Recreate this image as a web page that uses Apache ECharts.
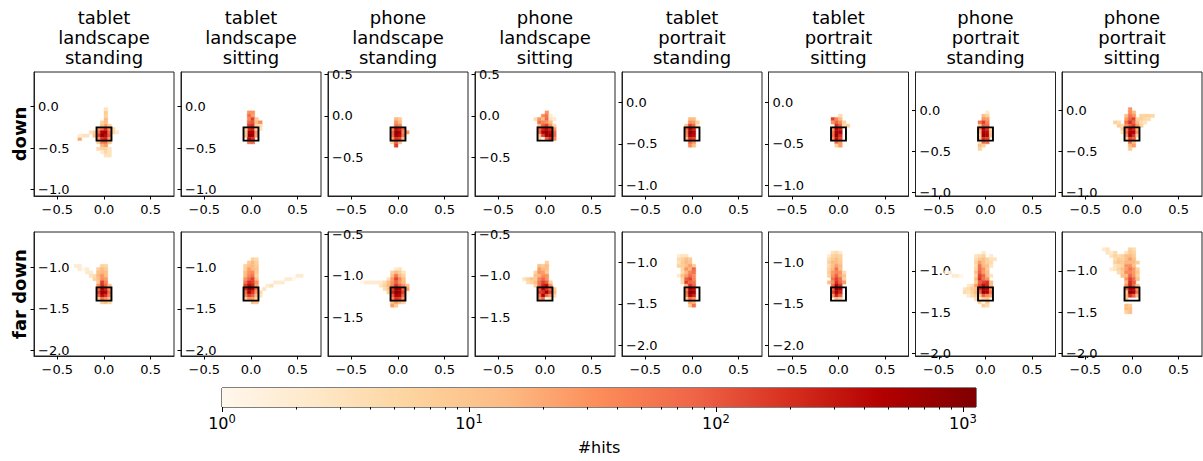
<!DOCTYPE html>
<html><head><meta charset="utf-8">
<script src="https://cdn.jsdelivr.net/npm/echarts@6/dist/echarts.min.js"></script>
<style>html,body{margin:0;padding:0;background:#fff}#c{width:1203px;height:461px}</style>
</head><body><div id="c"></div>
<script>
// ---------- data ----------
const COLUMN_TITLES = ['tablet\nlandscape\nstanding','tablet\nlandscape\nsitting','phone\nlandscape\nstanding','phone\nlandscape\nsitting',
  'tablet\nportrait\nstanding','tablet\nportrait\nsitting','phone\nportrait\nstanding','phone\nportrait\nsitting'];
const ROW_LABELS = ['down','far down'];
const TARGET_Y_DOWN = [-0.33,-0.33,-0.22,-0.22,-0.38,-0.38,-0.29,-0.29];
const TARGET_Y_FAR  = [-1.32,-1.32,-1.22,-1.22,-1.38,-1.38,-1.28,-1.28];
const X_TICKS = [-0.5, 0, 0.5];
const Y_TICKS_DOWN = [[0,-0.5,-1],[0,-0.5,-1],[0.5,0,-0.5],[0.5,0,-0.5],[0,-0.5,-1],[0,-0.5,-1],[0,-0.5,-1],[0,-0.5,-1]];
const Y_TICKS_FAR  = [[-1,-1.5,-2],[-1,-1.5,-2],[-0.5,-1,-1.5],[-0.5,-1,-1.5],[-1,-1.5,-2],[-1,-1.5,-2],[-1,-1.5,-2],[-1,-1.5,-2]];
const CBAR_MAJOR = [1, 10, 100, 1000];
const CBAR_MINOR = [2,3,4,5,6,7,8,9,20,30,40,50,60,70,80,90,200,300,400,500,600,700,800,900];
const HITS_MAX = 1130;
const BIN = 0.04;          // histogram bin size
const TARGET_SIZE = 0.16;  // side of target square

// cells: [column index, row index, hits] relative to target centre (bins of BIN)
const down_tablet_landscape_standing = [
 [-2,1,30],[-1,1,70],[0,1,200],[1,1,30],[-2,0,80],[-1,0,450],[0,0,500],[1,0,60],
 [-2,-1,150],[-1,-1,900],[0,-1,400],[1,-1,90],[-2,-2,30],[-1,-2,200],[0,-2,250],[1,-2,25],
 [0,2,30],[0,3,12],[0,4,14],[0,5,6],[0,6,8],[0,7,3],[-1,2,12],[-1,3,6],[1,2,6],
 [2,0,5],[2,1,4],[3,0,2],
 [-7,-2,20],[-7,-1,2],[-6,-1,3],[-5,-1,3],[-4,0,3],[-3,0,6],[-3,-1,10],
 [-2,-3,8],[-1,-3,60],[0,-3,70],[1,-3,12],[-1,-4,15],[0,-4,25],[-2,-5,4],[-1,-5,6],[0,-5,6],[1,-5,3],
 [-1,-6,2],[0,-6,5],[1,-6,3],[0,-7,3],[1,-7,3]];
const down_tablet_landscape_sitting = [
 [-1,6,30],[-1,5,70],[-1,4,40],[-1,3,80],[-1,2,150],[-1,1,200],[-1,0,500],[-1,-1,900],[-1,-2,400],[-1,-3,60],
 [0,6,30],[0,5,25],[0,4,150],[0,3,100],[0,2,200],[0,1,250],[0,0,450],[0,-1,600],[0,-2,200],[0,-3,70],
 [1,4,8],[1,3,12],[1,2,6],[1,1,5],[1,0,30],[1,-1,25],
 [2,3,35],[2,2,4],[2,1,3],[-2,1,5],[-2,0,10],[-2,-1,12]];
const down_phone_landscape_standing = [
 [-1,4,15],[0,4,8],[-1,3,30],[0,3,14],[-1,2,60],[0,2,40],
 [-2,1,30],[-1,1,400],[0,1,250],[1,1,70],
 [-2,0,80],[-1,0,800],[0,0,500],[1,0,40],[2,0,25],
 [-2,-1,70],[-1,-1,600],[0,-1,400],[1,-1,60],
 [-2,-2,25],[-1,-2,200],[0,-2,150],[1,-2,12],
 [-2,-3,6],[-1,-3,80],[0,-3,14],[-1,-4,150]];
const down_phone_landscape_sitting = [
 [0,6,30],[-1,5,35],[0,5,60],[1,5,2],
 [-3,4,4],[-2,4,30],[-1,4,15],[0,4,80],[1,4,3],[2,4,2],
 [-2,3,60],[-1,3,40],[0,3,30],[1,3,12],
 [-2,2,12],[-1,2,90],[0,2,150],[1,2,30],[2,2,5],
 [-2,1,70],[-1,1,250],[0,1,400],[1,1,200],[2,1,30],
 [-2,0,80],[-1,0,450],[0,0,800],[1,0,400],[2,0,70],
 [-2,-1,10],[-1,-1,150],[0,-1,600],[1,-1,700],[2,-1,80],
 [-2,-2,6],[-1,-2,1],[0,-2,90],[1,-2,200],[2,-2,40]];
const down_tablet_portrait_standing = [
 [-1,4,14],[0,4,12],[-1,3,30],[0,3,25],[1,3,6],
 [-2,2,10],[-1,2,150],[0,2,80],[1,2,3],
 [-2,1,60],[-1,1,500],[0,1,250],
 [-2,0,40],[-1,0,900],[0,0,450],
 [-2,-1,30],[-1,-1,600],[0,-1,400],
 [-2,-2,12],[-1,-2,200],[0,-2,150],
 [-1,-3,80],[0,-3,30],[-1,-4,35],[0,-4,12]];
const down_tablet_portrait_sitting = [
 [0,5,4],[-2,4,150],[-1,4,40],[0,4,12],
 [-2,3,30],[-1,3,80],[0,3,35],[1,3,6],
 [-1,2,200],[0,2,90],[1,2,4],[2,2,7],
 [-2,1,25],[-1,1,450],[0,1,250],
 [-2,0,60],[-1,0,600],[0,0,500],
 [-2,-1,70],[-1,-1,800],[0,-1,200],
 [-2,-2,35],[-1,-2,400],[0,-2,150],
 [-1,-3,80],[0,-3,30],[-1,-4,6],[0,-4,25]];
const down_phone_portrait_standing = [
 [0,6,2],[-1,5,14],[0,5,6],[-1,4,30],[0,4,25],
 [-2,3,60],[-1,3,150],[0,3,40],
 [-2,2,8],[-1,2,90],[0,2,70],
 [-2,1,30],[-1,1,450],[0,1,200],[1,1,5],
 [-2,0,15],[-1,0,500],[0,0,400],[1,0,10],
 [-2,-1,8],[-1,-1,700],[0,-1,450],[1,-1,12],
 [-2,-2,12],[-1,-2,200],[0,-2,150],
 [-2,-3,3],[-1,-3,80],[0,-3,60],
 [-2,-4,12],[-1,-4,6],[-2,-5,6]];
const down_phone_portrait_sitting = [
 [-1,7,30],[-1,6,35],[0,6,14],
 [-2,5,12],[-1,5,60],[0,5,30],[2,5,6],[3,5,6],[4,5,6],[5,5,5],
 [-2,4,25],[-1,4,90],[0,4,150],[1,4,6],[2,4,7],[3,4,5],[4,4,4],
 [-5,3,6],[-4,3,4],[-2,3,60],[-1,3,200],[0,3,80],[1,3,12],[2,3,4],[3,3,3],
 [-4,2,7],[-3,2,4],[-2,2,35],[-1,2,90],[0,2,150],[1,2,25],[2,2,6],
 [-3,1,6],[-2,1,40],[-1,1,400],[0,1,250],[1,1,14],
 [-3,0,3],[-2,0,60],[-1,0,500],[0,0,450],[1,0,30],
 [-2,-1,30],[-1,-1,700],[0,-1,200],[1,-1,8],
 [-2,-2,6],[-1,-2,150],[0,-2,90],
 [-1,-3,70],[0,-3,12],[-1,-4,15],[0,-4,25],[-1,-5,8]];
const far_tablet_landscape_standing = [
 [-8,8,2],[-7,8,2],[-1,8,6],[0,8,5],
 [-7,7,2],[-6,7,1],[-5,7,2],[-2,7,7],[-1,7,14],[0,7,8],
 [-5,6,2],[-4,6,2],[-2,6,12],[-1,6,15],[0,6,12],
 [-4,5,3],[-3,5,4],[-2,5,15],[-1,5,30],[0,5,14],
 [-3,4,6],[-2,4,12],[-1,4,35],[0,4,25],
 [-2,3,8],[-1,3,150],[0,3,40],
 [-2,2,30],[-1,2,200],[0,2,80],[1,2,12],
 [-2,1,70],[-1,1,500],[0,1,250],[1,1,30],
 [-2,0,150],[-1,0,800],[0,0,450],[1,0,60],
 [-2,-1,80],[-1,-1,400],[0,-1,200],[1,-1,40],
 [-2,-2,6],[-1,-2,60],[0,-2,30],[1,-2,12],
 [-1,-3,8],[0,-3,12],[1,-3,6]];
const far_tablet_landscape_sitting = [
 [0,10,6],[1,10,4],[-1,9,8],[0,9,14],[1,9,6],
 [-2,8,6],[-1,8,12],[0,8,15],[1,8,8],
 [-2,7,7],[-1,7,25],[0,7,14],[1,7,10],
 [-2,6,12],[-1,6,30],[0,6,35],[1,6,8],
 [-2,5,14],[-1,5,40],[0,5,60],[1,5,6],[12,5,2],[13,5,2],
 [-2,4,30],[-1,4,80],[0,4,150],[1,4,12],[9,4,2],[10,4,2],[11,4,1],
 [-2,3,60],[-1,3,200],[0,3,150],[1,3,30],[6,3,2],[7,3,2],[8,3,2],
 [-2,2,150],[-1,2,400],[0,2,250],[1,2,25],[4,2,2],[5,2,3],
 [-2,1,200],[-1,1,900],[0,1,450],[1,1,60],[3,1,3],
 [-2,0,70],[-1,0,500],[0,0,200],[1,0,30],[2,0,4],
 [-2,-1,40],[-1,-1,150],[0,-1,90],[1,-1,15],[2,-1,3],
 [-2,-2,6],[-1,-2,30],[0,-2,25],[1,-2,6],
 [0,-3,12],[1,-3,10]];
const far_phone_landscape_standing = [
 [-1,7,2],[0,7,3],
 [-2,6,6],[-1,6,14],[0,6,7],[1,6,3],
 [-2,5,12],[-1,5,60],[0,5,15],[1,5,6],
 [-3,4,3],[-2,4,25],[-1,4,150],[0,4,40],[1,4,12],
 [-10,3,1],[-9,3,2],[-8,3,2],[-7,3,2],[-6,3,2],[-5,3,2],[-4,3,4],[-3,3,12],[-2,3,30],[-1,3,90],[0,3,30],[1,3,14],
 [-5,2,3],[-4,2,6],[-3,2,15],[-2,2,40],[-1,2,200],[0,2,80],[1,2,30],[2,2,12],
 [-4,1,4],[-3,1,12],[-2,1,150],[-1,1,800],[0,1,500],[1,1,80],[2,1,25],
 [-3,0,6],[-2,0,250],[-1,0,1000],[0,0,600],[1,0,150],
 [-2,-1,90],[-1,-1,450],[0,-1,400],[1,-1,70],
 [-2,-2,40],[-1,-2,200],[0,-2,150],[1,-2,30],
 [-2,-3,12],[-1,-3,30],[0,-3,14],[1,-3,6],
 [-2,-4,25],[-1,-4,8]];
const far_phone_landscape_sitting = [
 [0,9,6],[-2,8,12],[-1,8,8],[0,8,14],
 [-2,7,25],[-1,7,14],[0,7,12],
 [-3,6,6],[-2,6,30],[-1,6,25],[0,6,8],
 [-3,5,12],[-2,5,15],[-1,5,35],[0,5,30],
 [-6,4,3],[-5,4,6],[-4,4,10],[-3,4,8],[-2,4,40],[-1,4,80],[0,4,30],
 [-5,3,4],[-4,3,6],[-3,3,12],[-2,3,60],[-1,3,150],[0,3,90],[1,3,6],
 [-3,2,6],[-2,2,70],[-1,2,250],[0,2,400],[1,2,30],
 [-2,1,90],[-1,1,450],[0,1,200],[1,1,70],[2,1,8],
 [-2,0,150],[-1,0,200],[0,0,700],[1,0,150],[2,0,12],
 [-2,-1,60],[-1,-1,500],[0,-1,80],[1,-1,30],[2,-1,4],
 [-2,-2,30],[-1,-2,70],[0,-2,1],[1,-2,3]];
const far_tablet_portrait_standing = [
 [-4,11,2],[-3,11,3],[-2,11,3],
 [-4,10,4],[-3,10,6],[-2,10,12],[-1,10,8],
 [-4,9,3],[-3,9,8],[-2,9,14],[-1,9,10],
 [-4,8,6],[-3,8,7],[-2,8,12],[-1,8,25],[0,8,8],
 [-3,7,6],[-2,7,30],[-1,7,15],[0,7,80],
 [-3,6,4],[-2,6,14],[-1,6,40],[0,6,60],
 [-4,5,2],[-3,5,12],[-2,5,25],[-1,5,70],[0,5,35],
 [-3,4,6],[-2,4,90],[-1,4,150],[0,4,40],
 [-3,3,4],[-2,3,150],[-1,3,80],[0,3,60],
 [-2,2,15],[-1,2,200],[0,2,90],
 [-2,1,30],[-1,1,500],[0,1,400],
 [-2,0,60],[-1,0,900],[0,0,600],
 [-2,-1,40],[-1,-1,450],[0,-1,250],
 [-2,-2,6],[-1,-2,70],[0,-2,30],
 [-1,-3,25],[0,-3,15],[-1,-4,8],[0,-4,60]];
const far_tablet_portrait_sitting = [
 [-2,12,3],[-1,12,4],[0,12,2],
 [-3,11,2],[-2,11,6],[-1,11,8],[0,11,6],
 [-3,10,4],[-2,10,8],[-1,10,12],[0,10,7],
 [-3,9,6],[-2,9,14],[-1,9,12],[0,9,8],
 [-3,8,4],[-2,8,12],[-1,8,25],[0,8,14],
 [-3,7,6],[-2,7,15],[-1,7,60],[0,7,12],
 [-3,6,7],[-2,6,25],[-1,6,40],[0,6,30],[1,6,4],
 [-3,5,6],[-2,5,30],[-1,5,90],[0,5,25],[1,5,10],
 [-2,4,60],[-1,4,150],[0,4,70],[1,4,6],
 [-3,3,12],[-2,3,30],[-1,3,200],[0,3,80],[1,3,25],
 [-2,2,70],[-1,2,450],[0,2,200],
 [-2,1,80],[-1,1,900],[0,1,500],
 [-2,0,150],[-1,0,600],[0,0,250],
 [-2,-1,30],[-1,-1,250],[0,-1,90],
 [-1,-2,12],[0,-2,6]];
const far_phone_portrait_standing = [
 [-1,12,2],
 [-3,11,3],[-2,11,4],[-1,11,6],[1,11,2],
 [-3,10,4],[-2,10,8],[-1,10,12],[0,10,6],[1,10,3],[2,10,3],
 [-3,9,6],[-2,9,25],[-1,9,12],[0,9,6],[1,9,4],
 [-3,8,4],[-2,8,60],[-1,8,15],[0,8,12],[1,8,3],
 [-3,7,6],[-2,7,70],[-1,7,30],[0,7,8],
 [-11,6,1],[-10,6,2],[-3,6,12],[-2,6,90],[-1,6,25],[0,6,12],
 [-9,5,2],[-8,5,2],[-7,5,1],[-3,5,6],[-2,5,150],[-1,5,80],[0,5,14],[1,5,3],
 [-3,4,14],[-2,4,200],[-1,4,60],[0,4,30],
 [-3,3,8],[-2,3,90],[-1,3,150],[0,3,200],[1,3,12],
 [-5,2,2],[-4,2,4],[-3,2,25],[-2,2,150],[-1,2,400],[0,2,250],[1,2,14],
 [-6,1,3],[-5,1,4],[-4,1,8],[-3,1,12],[-2,1,200],[-1,1,600],[0,1,450],[1,1,30],
 [-6,0,4],[-5,0,3],[-4,0,6],[-3,0,15],[-2,0,90],[-1,0,800],[0,0,500],[1,0,60],
 [-5,-1,2],[-4,-1,4],[-3,-1,8],[-2,-1,12],[-1,-1,90],[0,-1,40],[1,-1,25],
 [-3,-2,4],[-2,-2,3],[-1,-2,8],[0,-2,10],
 [-2,-3,6],[-1,-3,1],[0,-3,8],[-1,-4,7],[0,-4,4]];
const far_phone_portrait_sitting = [
 [-8,13,2],[-7,13,3],[-1,13,6],[0,13,4],
 [-7,12,3],[-6,12,2],[-5,12,4],[-2,12,3],[-1,12,8],[0,12,6],
 [-6,11,3],[-5,11,6],[-4,11,4],[-3,11,6],[-2,11,12],[-1,11,14],[0,11,8],
 [-5,10,4],[-4,10,8],[-3,10,6],[-2,10,12],[-1,10,25],[0,10,12],
 [-5,9,6],[-4,9,10],[-3,9,8],[-2,9,15],[-1,9,14],[0,9,14],[1,9,6],
 [-5,8,3],[-4,8,4],[-3,8,6],[-2,8,30],[-1,8,35],[0,8,12],
 [-6,7,2],[-5,7,3],[-4,7,6],[-3,7,12],[-2,7,25],[-1,7,60],[0,7,30],[1,7,6],
 [-4,6,4],[-3,6,8],[-2,6,35],[-1,6,40],[0,6,25],[1,6,8],
 [-3,5,12],[-2,5,14],[-1,5,80],[0,5,30],[1,5,6],
 [-2,4,30],[-1,4,150],[0,4,70],[1,4,12],
 [-2,3,15],[-1,3,200],[0,3,90],
 [-2,2,30],[-1,2,250],[0,2,80],[1,2,12],
 [-2,1,60],[-1,1,450],[0,1,400],[1,1,30],
 [-2,0,8],[-1,0,800],[0,0,500],[1,0,60],
 [-2,-1,12],[-1,-1,200],[0,-1,90],[1,-1,14],
 [-2,-2,10],
 [-2,-4,12],[-1,-4,8],[-2,-5,14],[-1,-5,12],[-2,-6,6],[-1,-6,12]];

const CELLS_DOWN = [down_tablet_landscape_standing, down_tablet_landscape_sitting, down_phone_landscape_standing, down_phone_landscape_sitting,
  down_tablet_portrait_standing, down_tablet_portrait_sitting, down_phone_portrait_standing, down_phone_portrait_sitting];
const CELLS_FAR = [far_tablet_landscape_standing, far_tablet_landscape_sitting, far_phone_landscape_standing, far_phone_landscape_sitting,
  far_tablet_portrait_standing, far_tablet_portrait_sitting, far_phone_portrait_standing, far_phone_portrait_sitting];

// ---------- rendering ----------
const FONT = 'DejaVu Sans';
const ORRD = ['#fff7ec','#fee8c8','#fdd49e','#fdbb84','#fc8d59','#ef6548','#d7301f','#b30000','#7f0000'];
const LOG_MAX = Math.log10(HITS_MAX);
function hex2rgb(h){return [parseInt(h.slice(1,3),16),parseInt(h.slice(3,5),16),parseInt(h.slice(5,7),16)];}
function colorFor(n){
  const t = Math.max(0, Math.min(1, Math.log10(n) / LOG_MAX));
  const s = t * (ORRD.length - 1);
  const i = Math.min(ORRD.length - 2, Math.floor(s));
  const f = s - i;
  const a = hex2rgb(ORRD[i]), b = hex2rgb(ORRD[i+1]);
  return 'rgb(' + a.map((v,k)=>Math.round(v + (b[k]-v)*f)).join(',') + ')';
}
const fmtNum = v => (Math.abs(v) < 1e-9 ? '0.0' : v.toFixed(1)).replace('-', '\u2212');

const LEFTS = [34, 181, 328, 475, 622, 768.5, 915.5, 1062];
const TOPS = [72, 232];
const PW = 140, PH = 124;

const grids = [], xAxes = [], yAxes = [], series = [], graphics = [];
const rows = [[TARGET_Y_DOWN, Y_TICKS_DOWN, CELLS_DOWN], [TARGET_Y_FAR, Y_TICKS_FAR, CELLS_FAR]];
let gi = 0;
rows.forEach((row, ri) => {
  const [ty, yt, cells] = row;
  for (let ci = 0; ci < 8; ci++) {
    const t = ty[ci];
    grids.push({left: LEFTS[ci], top: TOPS[ri], width: PW, height: PH, show: true, borderColor: '#222', borderWidth: 1, backgroundColor: '#fff'});
    xAxes.push({gridIndex: gi, type: 'value', min: -0.75, max: 0.75,
      axisLine: {show: true, onZero: false, lineStyle: {color: '#222', width: 1}},
      axisTick: {show: true, customValues: X_TICKS, length: 3.5, lineStyle: {color: '#000', width: 1}},
      axisLabel: {customValues: X_TICKS, formatter: fmtNum, fontSize: 13, fontFamily: FONT, color: '#000', margin: 7},
      splitLine: {show: false}});
    yAxes.push({gridIndex: gi, type: 'value', min: t - 0.75, max: t + 0.75,
      axisLine: {show: true, onZero: false, lineStyle: {color: '#222', width: 1}},
      axisTick: {show: true, customValues: yt[ci], length: 3.5, lineStyle: {color: '#000', width: 1}},
      axisLabel: {customValues: yt[ci], inside: true, formatter: fmtNum, fontSize: 13, fontFamily: FONT, color: '#000', margin: 4},
      splitLine: {show: false}});
    const data = cells[ci].map(c => [c[0] * BIN, t + c[1] * BIN, c[2]]);
    series.push({type: 'custom', xAxisIndex: gi, yAxisIndex: gi, data: data, clip: true, silent: true,
      renderItem: (params, api) => {
        const x0 = api.value(0), y0 = api.value(1), n = api.value(2);
        const p0 = api.coord([x0, y0 + BIN]);
        const p1 = api.coord([x0 + BIN, y0]);
        const col = colorFor(n);
        return {type: 'rect', shape: {x: p0[0], y: p0[1], width: p1[0] - p0[0], height: p1[1] - p0[1]},
          style: {fill: col, stroke: col, lineWidth: 0.4}};
      }});
    series.push({type: 'custom', xAxisIndex: gi, yAxisIndex: gi, data: [[0, t]], silent: true, z: 5,
      renderItem: (params, api) => {
        const h = TARGET_SIZE / 2;
        const p0 = api.coord([api.value(0) - h, api.value(1) + h]);
        const p1 = api.coord([api.value(0) + h, api.value(1) - h]);
        return {type: 'rect', shape: {x: p0[0], y: p0[1], width: p1[0] - p0[0], height: p1[1] - p0[1]},
          style: {fill: null, stroke: '#000', lineWidth: 1.9}};
      }});
    gi++;
  }
});

// colour bar
const cbGrid = gi;
grids.push({left: 222, top: 388, width: 754, height: 19, show: true, borderColor: '#000', borderWidth: 1});
xAxes.push({gridIndex: cbGrid, type: 'value', min: 0, max: LOG_MAX, position: 'bottom',
  axisLine: {show: false},
  axisTick: {show: true, customValues: CBAR_MAJOR.map(Math.log10), length: 5, lineStyle: {color: '#000'}},
  axisLabel: {customValues: CBAR_MAJOR.map(Math.log10), margin: 6, color: '#000',
    formatter: v => '{b|10}{s|' + Math.round(v) + '}',
    rich: {b: {fontSize: 16, fontFamily: FONT, color: '#000'}, s: {fontSize: 11.5, fontFamily: FONT, color: '#000', padding: [0, 0, 9, 0]}}},
  splitLine: {show: false},
  name: '#hits', nameLocation: 'middle', nameGap: 32, nameTextStyle: {fontSize: 16, fontFamily: FONT, color: '#000'}});
xAxes.push({gridIndex: cbGrid, type: 'value', min: 0, max: LOG_MAX, position: 'bottom',
  axisLine: {show: false},
  axisTick: {show: true, customValues: CBAR_MINOR.map(Math.log10), length: 2.5, lineStyle: {color: '#000'}},
  axisLabel: {show: false}, splitLine: {show: false}});
yAxes.push({gridIndex: cbGrid, type: 'value', min: 0, max: 1, show: false});
series.push({type: 'custom', xAxisIndex: xAxes.length - 2, yAxisIndex: cbGrid, data: [[0, LOG_MAX]], silent: true,
  renderItem: (params, api) => {
    const p0 = api.coord([api.value(0), 1]);
    const p1 = api.coord([api.value(1), 0]);
    return {type: 'rect', shape: {x: p0[0], y: p0[1], width: p1[0] - p0[0], height: p1[1] - p0[1]},
      style: {fill: new echarts.graphic.LinearGradient(0, 0, 1, 0, ORRD.map((c, i) => ({offset: i / (ORRD.length - 1), color: c})))}};
  }});

// titles
COLUMN_TITLES.forEach((tt, ci) => {
  graphics.push({type: 'text', x: LEFTS[ci] + PW / 2, y: 7, style: {text: tt, font: '18px "' + FONT + '"', fill: '#000',
    textAlign: 'center', textVerticalAlign: 'top', lineHeight: 20}});
});
ROW_LABELS.forEach((lab, ri) => {
  graphics.push({type: 'text', x: 19, y: TOPS[ri] + PH / 2, rotation: Math.PI / 2,
    style: {text: lab, font: 'bold 18px "' + FONT + '"', fill: '#000', textAlign: 'center', textVerticalAlign: 'middle'}});
});

const chart = echarts.init(document.getElementById('c'), null, {renderer: 'svg'});
chart.setOption({animation: false, backgroundColor: '#fff', grid: grids, xAxis: xAxes, yAxis: yAxes, series: series, graphic: graphics});
</script>
</body></html>
